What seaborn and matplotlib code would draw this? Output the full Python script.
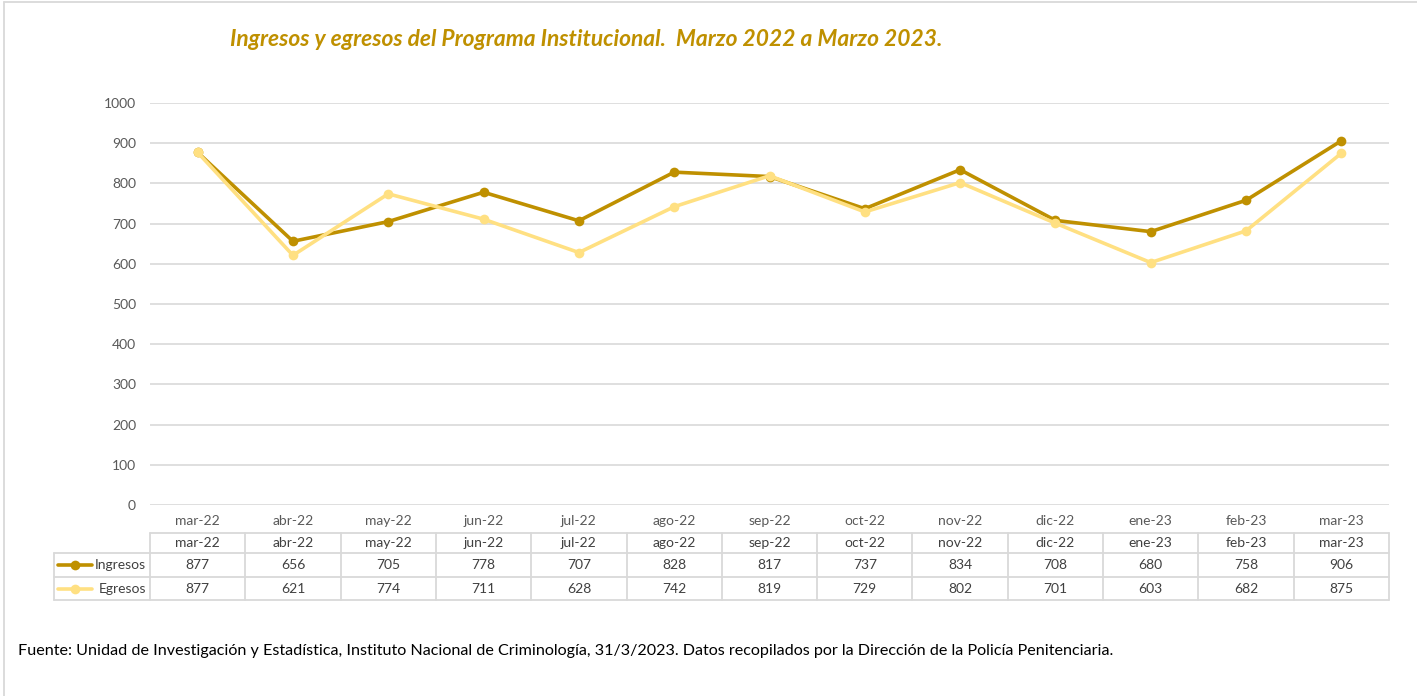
import numpy as np
import pandas as pd
import matplotlib.pyplot as plt
import matplotlib.transforms as mtransforms
from matplotlib.lines import Line2D
import seaborn as sns

months = ["mar-22", "abr-22", "may-22", "jun-22", "jul-22", "ago-22", "sep-22",
          "oct-22", "nov-22", "dic-22", "ene-23", "feb-23", "mar-23"]
ingresos = [877, 656, 705, 778, 707, 828, 817, 737, 834, 708, 680, 758, 906]
egresos = [877, 621, 774, 711, 628, 742, 819, 729, 802, 701, 603, 682, 875]
series_names = ["Ingresos", "Egresos"]
series_colors = ["#BF9000", "#FFE082"]

title = "Ingresos y egresos del Programa Institucional.  Marzo 2022 a Marzo 2023."
source = ("Fuente: Unidad de Investigación y Estadística, Instituto Nacional de Criminología, "
          "31/3/2023. Datos recopilados por la Dirección de la Policía Penitenciaria.")

sns.set_theme(style="white")
plt.rcParams["font.family"] = ["Lato", "DejaVu Sans"]

df = pd.DataFrame({"mes": months * 2,
                   "valor": ingresos + egresos,
                   "serie": [series_names[0]] * 13 + [series_names[1]] * 13})

W, H = 1417, 696
fig = plt.figure(figsize=(W / 100, H / 100), dpi=100)
ax = fig.add_axes([150 / W, 1 - 505 / H, (1389 - 150) / W, (505 - 103) / H])

sns.lineplot(data=df, x="mes", y="valor", hue="serie", hue_order=series_names,
             palette=series_colors, marker="o", markersize=7, markeredgewidth=0,
             linewidth=2.6, legend=False, ax=ax, sort=False)

ax.set_xlim(-0.5, len(months) - 0.5)
ax.set_ylim(0, 1000)
ax.set_yticks(np.arange(0, 1001, 100))
ax.grid(axis="y", color="#D9D9D9", linewidth=1.2)
ax.set_axisbelow(True)
for s in ax.spines.values():
    s.set_visible(False)
ax.set_xlabel("")
ax.set_ylabel("")
ax.tick_params(axis="y", length=0, pad=10, labelsize=10, labelcolor="#595959")
ax.tick_params(axis="x", length=0, pad=7, labelsize=10, labelcolor="#595959")

# data table below the axis
trans = mtransforms.blended_transform_factory(ax.transData, ax.transAxes)
ax_h = 505 - 103


def yf(py):
    return (505 - py) / ax_h


def xd(px):
    return -0.5 + (px - 150) / ((1389 - 150) / 13)


grid_kw = dict(color="#D9D9D9", linewidth=1.3, transform=trans, clip_on=False)
n = len(months)
ax.add_line(Line2D([-0.5, n - 0.5], [yf(533)] * 2, **grid_kw))
for py in [553, 577, 600]:
    ax.add_line(Line2D([xd(54), n - 0.5], [yf(py)] * 2, **grid_kw))
for k in range(n + 1):
    ax.add_line(Line2D([k - 0.5] * 2, [yf(533), yf(600)], **grid_kw))
ax.add_line(Line2D([xd(54)] * 2, [yf(553), yf(600)], **grid_kw))

txt_kw = dict(transform=trans, ha="center", va="center", fontsize=10,
              color="#404040", clip_on=False)
for i, m in enumerate(months):
    ax.text(i, yf(543), m, **txt_kw)
    ax.text(i, yf(565), str(ingresos[i]), **txt_kw)
    ax.text(i, yf(589), str(egresos[i]), **txt_kw)

for name, color, py in zip(series_names, series_colors, [565, 589]):
    ax.add_line(Line2D([xd(58), xd(92)], [yf(py)] * 2, color=color, linewidth=2.6,
                       transform=trans, clip_on=False))
    ax.add_line(Line2D([xd(75)], [yf(py)], color=color, marker="o", markersize=7,
                       markeredgewidth=0, transform=trans, clip_on=False))
    ax.text(xd(146), yf(py), name, transform=trans, ha="right", va="center",
            fontsize=10, color="#404040", clip_on=False)

fig.text(586 / W, 1 - 40 / H, title, ha="center", va="center", fontsize=16.4,
         fontweight="bold", fontstyle="italic", color="#BF9000")
fig.text(18 / W, 1 - 651 / H, source, ha="left", va="center", fontsize=11.65,
         color="#000000")

# outer chart frame (top and left edges visible)
fig.add_artist(Line2D([4 / W, 1], [1 - 2 / H] * 2, color="#D9D9D9", linewidth=1.3,
                      transform=fig.transFigure))
fig.add_artist(Line2D([4 / W] * 2, [0, 1 - 2 / H], color="#D9D9D9", linewidth=1.3,
                      transform=fig.transFigure))

fig.savefig("out.png", dpi=100)
